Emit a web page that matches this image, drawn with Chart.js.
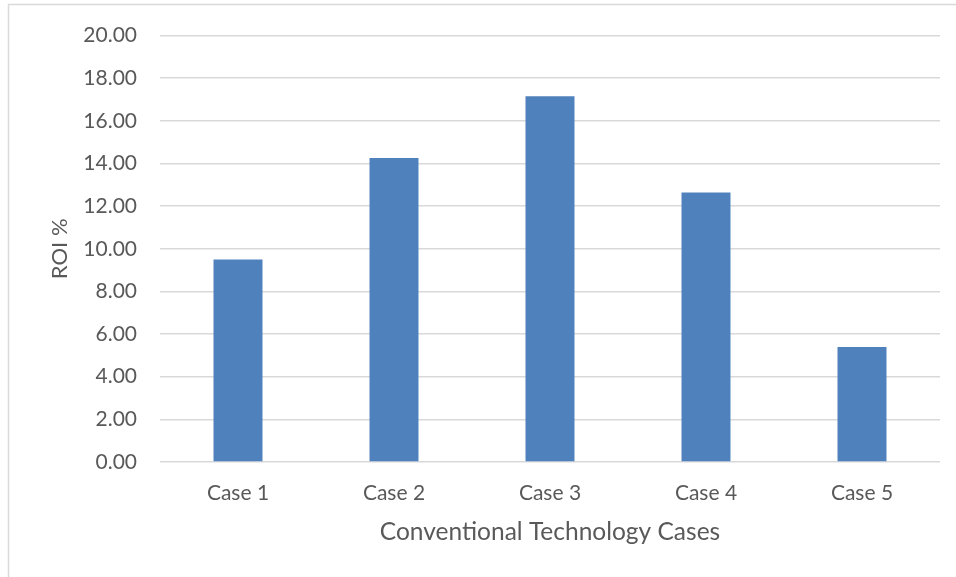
<!DOCTYPE html>
<html>
<head>
<meta charset="utf-8">
<script src="https://cdn.jsdelivr.net/npm/chart.js@4.4.1/dist/chart.umd.min.js"></script>
<style>
  html, body { margin: 0; padding: 0; background: #ffffff; }
  #wrap { width: 956px; height: 577px; }
</style>
</head>
<body>
<div id="wrap"><canvas id="roi" width="956" height="577"></canvas></div>
<script>
// ROI per conventional technology case
const categories = ['Case 1', 'Case 2', 'Case 3', 'Case 4', 'Case 5'];
const roiValues = [9.50, 14.26, 17.16, 12.64, 5.39];
const yTitle = 'ROI %';
const xTitle = 'Conventional Technology Cases';

const textColor = '#595959';
const gridColor = '#D9D9D9';
const barColor = '#4F81BD';
const fontFamily = 'Lato, "Open Sans", "DejaVu Sans", sans-serif';

// white page with a thin frame around the chart
const framePlugin = {
  id: 'frame',
  beforeDraw(chart) {
    const ctx = chart.ctx;
    ctx.save();
    ctx.fillStyle = '#ffffff';
    ctx.fillRect(0, 0, chart.width, chart.height);
    ctx.strokeStyle = gridColor;
    ctx.lineWidth = 1.5;
    ctx.strokeRect(8.5, 4.5, chart.width + 20, chart.height + 20);
    ctx.restore();
  }
};

new Chart(document.getElementById('roi'), {
  type: 'bar',
  data: {
    labels: categories,
    datasets: [{
      data: roiValues,
      backgroundColor: barColor,
      borderWidth: 0,
      barPercentage: 0.314,
      categoryPercentage: 1.0
    }]
  },
  options: {
    responsive: false,
    devicePixelRatio: 1,
    animation: false,
    layout: { padding: { top: 33, right: 16, bottom: 0, left: 0 } },
    plugins: {
      legend: { display: false },
      tooltip: { enabled: false }
    },
    scales: {
      x: {
        grid: { display: false, drawTicks: false },
        border: { display: false },
        ticks: {
          color: textColor,
          padding: 19,
          font: { family: fontFamily, size: 21 }
        },
        title: {
          display: true,
          text: xTitle,
          color: textColor,
          padding: { top: 0, bottom: 30 },
          font: { family: fontFamily, size: 24.5 }
        },
        afterFit(scale) { scale.height = 115; }
      },
      y: {
        min: 0,
        max: 20,
        grid: { color: gridColor, lineWidth: 1.5, drawTicks: false },
        border: { display: false },
        ticks: {
          stepSize: 2,
          color: textColor,
          padding: 23,
          font: { family: fontFamily, size: 21 },
          callback: (v) => Number(v).toFixed(2)
        },
        title: {
          display: true,
          text: yTitle,
          color: textColor,
          padding: { top: 47, bottom: 0 },
          font: { family: fontFamily, size: 22 }
        },
        afterFit(scale) { scale.width = 160; }
      }
    }
  },
  plugins: [framePlugin]
});
</script>
</body>
</html>
